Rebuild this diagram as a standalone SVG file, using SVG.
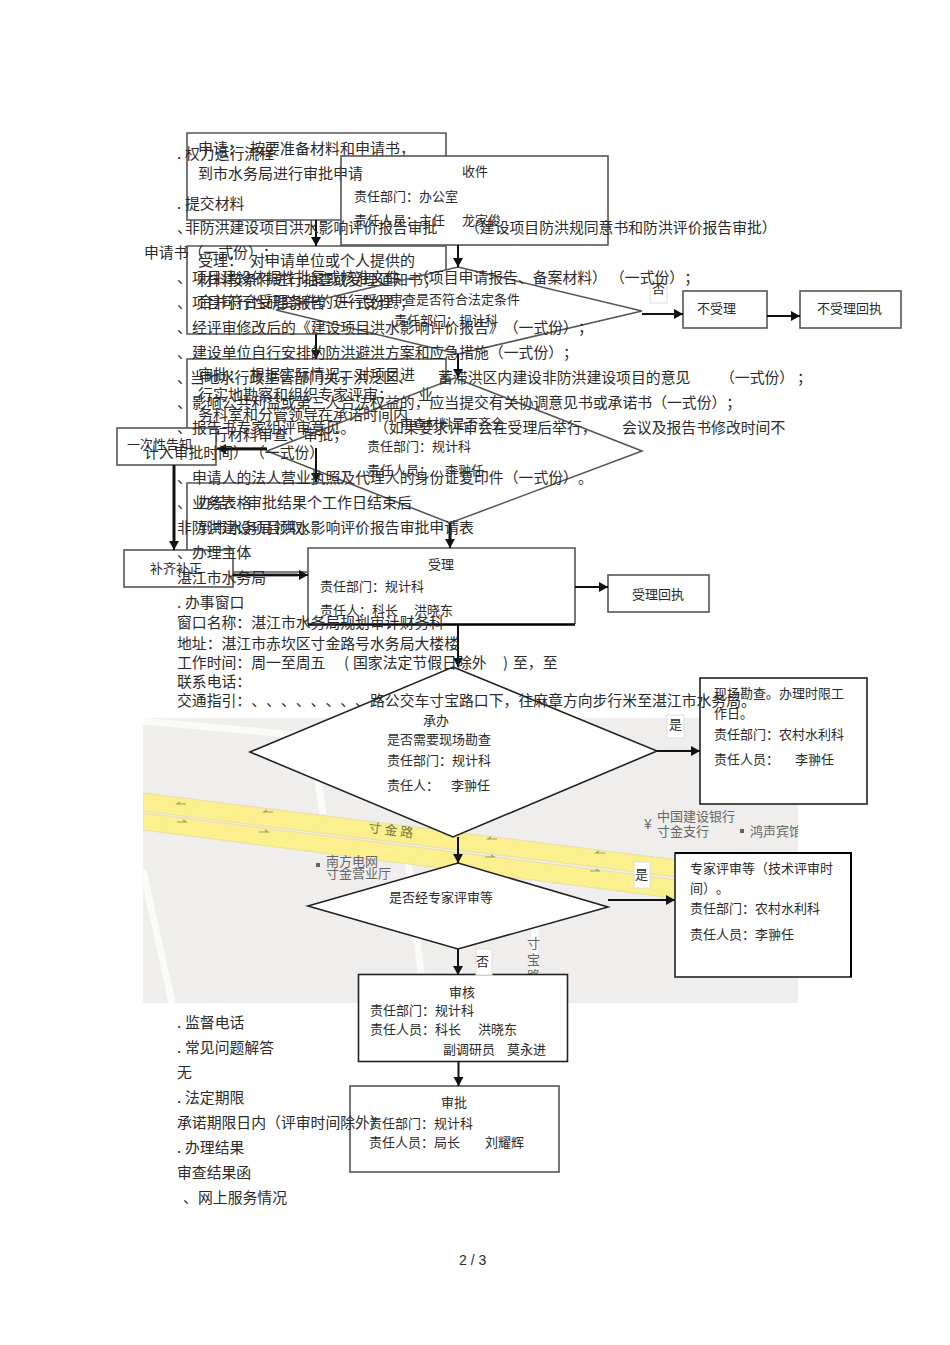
<svg xmlns="http://www.w3.org/2000/svg" width="950" height="1345" viewBox="0 0 950 1345">
<style>
text{font-family:"Noto Sans CJK SC","Noto Sans",sans-serif;fill:#2a2a2a;text-spacing-trim:space-all;font-kerning:none}
.b{font-size:14.85px}
.m{font-size:15px}
.n{font-size:13px}
.s{fill:none;stroke:#555;stroke-width:1.6}
.d{fill:none;stroke:#222;stroke-width:1.6}
.w{fill:#fff;stroke:none}
.c{fill:none;stroke:#111;stroke-width:2;marker-end:url(#ah)}
.c2{fill:none;stroke:#444;stroke-width:3.2}
.l{fill:#fff;stroke:#ddd;stroke-width:1}
.mt{font-size:13px;fill:#666}
.ma{fill:none;stroke:#a09a60;stroke-width:1.2}
</style>
<defs>
<marker id="ah" markerUnits="userSpaceOnUse" markerWidth="10" markerHeight="12" refX="9" refY="5" orient="auto"><path d="M0 0L9 5L0 10Z" fill="#111"/></marker>
<clipPath id="mc"><rect x="143" y="718" width="655" height="285"/></clipPath>
</defs>
<rect width="950" height="1345" fill="#fff"/>

<g id="map" clip-path="url(#mc)">
<rect x="143" y="718" width="655" height="285" fill="#efeeec"/>
<path d="M143 721L320 737M143 870L172 1003M318 780L323 814M408 860L421 973M536 870L534 980" fill="none" stroke="#fbfbfa" stroke-width="7"/>
<path d="M143 793L798 875V892L143 811Z" fill="#fbef8e" stroke="#e6dfa0"/>
<path d="M143 813L798 895V914L143 830Z" fill="#fbef8e" stroke="#e6dfa0"/>
<path class="ma" d="M186 804H177l3-2M273 812H264l3-2M497 839H488l3-2M605 853H596l3-2"/>
<path class="ma" d="M177 822H186l-3-2M259 832H268l-3-2M485 857H494l-3-2M590 871H599l-3-2"/>
<text transform="translate(368 832) rotate(7)" style="font-size:13px;letter-spacing:3px;fill:#7d7740">寸金路</text>
<rect x="316" y="863" width="4" height="4" fill="#666"/>
<text class="mt" x="326" y="866">南方电网</text>
<text class="mt" x="326" y="878">寸金营业厅</text>
<text class="mt" x="644" y="829" style="font-size:14px">¥</text>
<text class="mt" x="657" y="821">中国建设银行</text>
<text class="mt" x="657" y="836">寸金支行</text>
<rect x="740" y="829" width="4" height="4" fill="#666"/>
<text class="mt" x="750" y="836">鸿声宾馆</text>
<text class="mt" x="527" y="948">寸</text>
<text class="mt" x="527" y="964">宝</text>
<text class="mt" x="527" y="980">路</text>
</g>

<g id="backdrops">
<polygon class="w" points="458,267 642,311 458,354 276,310"/>
<polygon class="w" points="455,378 642,451 450,523 267,451"/>
<polygon class="w" points="453,667 657,751 453,837 250,752"/>
<polygon class="w" points="458,863 608,907 458,949 308,906"/>
</g>

<g id="n-apply"><path class="s" d="M446 156V133H187V220H341"/>
<text class="m" x="198" y="154">申请&#65306;<tspan x="250">按要准备材料和申请书&#65292;</tspan></text>
<text class="m" x="198" y="179">到市水务局进行审批申请</text></g>

<g id="n-receive"><rect class="s" x="341" y="156" width="267" height="89"/>
<text class="n" x="462" y="176">收件</text>
<text class="n" x="354" y="201">责任部门&#65306;办公室</text>
<text class="n" x="354" y="225">责任人员&#65306;主任<tspan x="462">龙家俊</tspan></text></g>

<g id="n-accept"><path class="s" d="M446 270V246H187V334H375"/>
<text class="m" x="198" y="266">受理&#65306;<tspan x="250">对申请单位或个人提供的</tspan></text>
<text class="m" x="198" y="285">材料按条件进行抽查或受理通知书&#65307;</text>
<text class="m" x="198" y="307">合并符合受理条件的进行受理。</text></g>

<g id="n-check"><polygon class="s" points="458,267 642,311 458,354 276,310"/>
<text class="n" x="390" y="304">审查是否符合法定条件</text>
<text class="n" x="394" y="325">责任部门&#65306;规计科</text></g>

<g id="n-no"><rect class="s" x="683" y="291" width="84" height="37"/>
<text class="n" x="697" y="313">不受理</text></g>
<g id="n-no-receipt"><rect class="s" x="800" y="291" width="101" height="37"/>
<text class="n" x="817" y="313">不受理回执</text></g>

<g id="n-review"><path class="s" d="M446 381V359H187V428M217 448H267"/>
<text class="m" x="198" y="380">审批&#65306;<tspan x="250">根据实际情况&#65292;对项目进</tspan></text>
<text class="m" x="198" y="400">行实地勘察和组织专家评审&#65307;<tspan x="418">业</tspan></text>
<text class="m" x="198" y="420">务科室和分管领导在承诺时间内</text>
<text class="m" x="198" y="440">进行材料审查、审批&#65307;</text></g>

<g id="n-material"><polygon class="s" points="455,378 642,451 450,523 267,451"/>
<text class="n" x="400" y="428">审查材料是否齐全</text>
<text class="n" x="367" y="451">责任部门&#65306;规计科</text>
<text class="n" x="367" y="475">责任人员&#65306;<tspan x="445">李翀任</tspan></text></g>

<g id="n-notice"><rect class="s" x="117" y="428" width="99" height="37" style="fill:#fff"/>
<text class="n" x="127" y="449">一次性告知</text></g>

<g id="n-finish"><path class="s" d="M343 483H187V550M233 572H308"/>
<text class="m" x="198" y="508">办结&#65306;<tspan x="247">审批结果个工作日结束后</tspan></text>
<text class="m" x="198" y="533">到市水务局领取。</text></g>

<g id="n-supply"><rect class="s" x="124" y="550" width="109" height="37" style="fill:#fff"/>
<text class="n" x="150" y="573">补齐补正</text></g>

<g id="n-accepted"><path class="s" d="M308 624V548H575V624"/><path d="M308 624.500H575" fill="none" stroke="#000" stroke-width="2.4"/>
<text class="n" x="428" y="569">受理</text>
<text class="n" x="320" y="591">责任部门&#65306;规计科</text>
<text class="n" x="320" y="615">责任人&#65306;科长<tspan x="414">洪晓东</tspan></text></g>

<g id="n-accepted-receipt"><rect class="s" x="608" y="575" width="101" height="37"/>
<text class="n" x="632" y="599">受理回执</text></g>

<g id="n-handle"><polygon class="d" points="453,667 657,751 453,837 250,752"/>
<text class="n" x="423" y="725">承办</text>
<text class="n" x="387" y="744">是否需要现场勘查</text>
<text class="n" x="387" y="765">责任部门&#65306;规计科</text>
<text class="n" x="387" y="790">责任人&#65306;<tspan x="451">李翀任</tspan></text></g>

<g id="n-survey"><rect class="d" x="700" y="678" width="167" height="126" style="fill:#fff"/>
<text class="n" x="714" y="698">现场勘查。办理时限工</text>
<text class="n" x="714" y="718">作日。</text>
<text class="n" x="714" y="739">责任部门&#65306;农村水利科</text>
<text class="n" x="714" y="764">责任人员&#65306;<tspan x="795">李翀任</tspan></text></g>

<g id="n-expert-q"><polygon class="d" points="458,863 608,907 458,949 308,906"/>
<text class="n" x="389" y="902">是否经专家评审等</text></g>

<g id="n-expert"><rect class="d" x="675" y="853" width="176" height="124" style="fill:#fff"/>
<path d="M675 853H851V977" fill="none" stroke="#000" stroke-width="2"/>
<text class="n" x="690" y="873">专家评审等&#65288;技术评审时</text>
<text class="n" x="690" y="893">间&#65289;。</text>
<text class="n" x="690" y="913">责任部门&#65306;农村水利科</text>
<text class="n" x="690" y="939">责任人员&#65306;李翀任</text></g>

<g id="n-audit"><rect class="d" x="358.500" y="974.500" width="209" height="87" style="fill:#fff"/>
<text class="n" x="449" y="997">审核</text>
<text class="n" x="370" y="1015">责任部门&#65306;规计科</text>
<text class="n" x="370" y="1034">责任人员&#65306;科长<tspan x="478">洪晓东</tspan></text>
<text class="n" x="443" y="1054">副调研员<tspan x="507">莫永进</tspan></text></g>

<g id="n-approve"><rect class="s" x="350" y="1086" width="209" height="86" style="fill:#fff"/>
<text class="n" x="441" y="1107">审批</text>
<text class="n" x="369" y="1128">责任部门&#65306;规计科</text>
<text class="n" x="369" y="1147">责任人员&#65306;局长<tspan x="485">刘耀辉</tspan></text></g>

<g id="connectors">
<path class="c" d="M316 220V246"/>
<path class="c" d="M316 334V359"/>
<path class="c" d="M316 448V482"/>
<path class="c" d="M458 245V267"/>
<path class="c" d="M458 354V378"/>
<path class="c" d="M642 314H683"/>
<path class="c" d="M767 316H800"/>
<path class="c2" d="M226 449H267"/>
<path class="c" d="M267 449H217"/>
<path class="c2" d="M174 465V542"/>
<path class="c" d="M174 465V550"/>
<path class="c2" d="M233 575H298"/>
<path class="c" d="M233 575H308"/>
<path class="c2" d="M450 523V540"/>
<path class="c" d="M450 523V548"/>
<path class="c" d="M575 587H608"/>
<path class="c" d="M458 625V667"/>
<path class="c" d="M657 751H700"/>
<path class="c" d="M458 837V863"/>
<path class="c" d="M608 900H675"/>
<path class="c" d="M458 949V975"/>
<path class="c" d="M458.500 1062V1086"/>
<rect class="l" x="650" y="280" width="17" height="23"/><text class="n" x="652" y="293">否</text>
<rect class="l" x="667" y="715" width="17" height="23"/><text class="n" x="669" y="729">是</text>
<rect class="l" x="634" y="862" width="16" height="26"/><text class="n" x="635" y="879">是</text>
<rect class="l" x="476" y="949" width="16" height="26"/><text class="n" x="476" y="966">否</text>
</g>

<g id="body">
<text class="b" x="177" y="159">. <tspan x="185">权力运行流程</tspan></text>
<text class="b" x="177" y="209">. <tspan x="185">提交材料</tspan></text>
<text class="b" x="177" y="233">、<tspan x="185">非防洪建设项目洪水影响评价报告审批</tspan><tspan x="465">&#65288;建设项目防洪规同意书和防洪评价报告审批&#65289;</tspan></text>
<text class="b" x="144" y="258">申请书&#65288;一式份&#65289;&#65307;</text>
<text class="b" x="177" y="283">、<tspan x="192">项目建设依据性批复或核准文件</tspan><tspan x="414">&#65288;项目申请报告、备案材料&#65289;</tspan><tspan x="610">&#65288;一式份&#65289;&#65307;</tspan></text>
<text class="b" x="177" y="308">、<tspan x="192">项目可行性研究报告&#65288;一式份&#65289;&#65307;</tspan></text>
<text class="b" x="177" y="333">、<tspan x="192">经评审修改后的《建设项目洪水影响评价报告》&#65288;一式份&#65289;&#65307;</tspan></text>
<text class="b" x="177" y="358">、<tspan x="192">建设单位自行安排的防洪避洪方案和应急措施&#65288;一式份&#65289;&#65307;</tspan></text>
<text class="b" x="177" y="383">、<tspan x="190">当地水行政主管部门关于洪泛区、</tspan><tspan x="438">蓄滞洪区内建设非防洪建设项目的意见</tspan><tspan x="720">&#65288;一式份&#65289;</tspan><tspan x="797">&#65307;</tspan></text>
<text class="b" x="177" y="408">、<tspan x="192">影响公共利益或第三人合法权益的&#65292;应当提交有关协调意见书或承诺书&#65288;一式份&#65289;&#65307;</tspan></text>
<text class="b" x="177" y="433">、<tspan x="192">报告书专家组评审意见。</tspan><tspan x="374">&#65288;如果要求评审会在受理后举行&#65292;</tspan><tspan x="622">会议及报告书修改时间不</tspan></text>
<text class="b" x="144" y="458">计入审批时间&#65289;<tspan x="250">&#65288;一式份&#65289;</tspan></text>
<text class="b" x="177" y="483">、<tspan x="192">申请人的法人营业执照及代理人的身份证复印件&#65288;一式份&#65289;。</tspan></text>
<text class="b" x="177" y="508">、<tspan x="192">业务表格</tspan></text>
<text class="b" x="177" y="533">非防洪建设项目洪水影响评价报告审批申请表</text>
<text class="b" x="177" y="558">、<tspan x="192">办理主体</tspan></text>
<text class="b" x="177" y="583">湛江市水务局</text>
<text class="b" x="177" y="608">. <tspan x="185">办事窗口</tspan></text>
<text class="b" x="177" y="628">窗口名称&#65306;湛江市水务局规划审计财务科</text>
<text class="b" x="177" y="649">地址&#65306;湛江市赤坎区寸金路号水务局大楼楼</text>
<text class="b" x="177" y="668">工作时间&#65306;周一至周五<tspan x="344">(</tspan><tspan x="353">国家法定节假日除外</tspan><tspan x="503">)</tspan><tspan x="513">至&#65292;至</tspan></text>
<text class="b" x="177" y="687">联系电话&#65306;</text>
<text class="b" x="177" y="706">交通指引&#65306;、、、、、、、、路公交车寸宝路口下&#65292;往麻章方向步行米至湛江市水务局。</text>
<text class="b" x="177" y="1028">. <tspan x="185">监督电话</tspan></text>
<text class="b" x="177" y="1053">. <tspan x="185">常见问题解答</tspan></text>
<text class="b" x="177" y="1078">无</text>
<text class="b" x="177" y="1103">. <tspan x="185">法定期限</tspan></text>
<text class="b" x="177" y="1128">承诺期限日内&#65288;评审时间除外&#65289;</text>
<text class="b" x="177" y="1153">. <tspan x="185">办理结果</tspan></text>
<text class="b" x="177" y="1178">审查结果函</text>
<text class="b" x="183" y="1203">、<tspan x="198">网上服务情况</tspan></text>
<text x="459" y="1265" style="font-family:'Liberation Sans',sans-serif;font-size:14px">2 / 3</text>
</g>
</svg>
